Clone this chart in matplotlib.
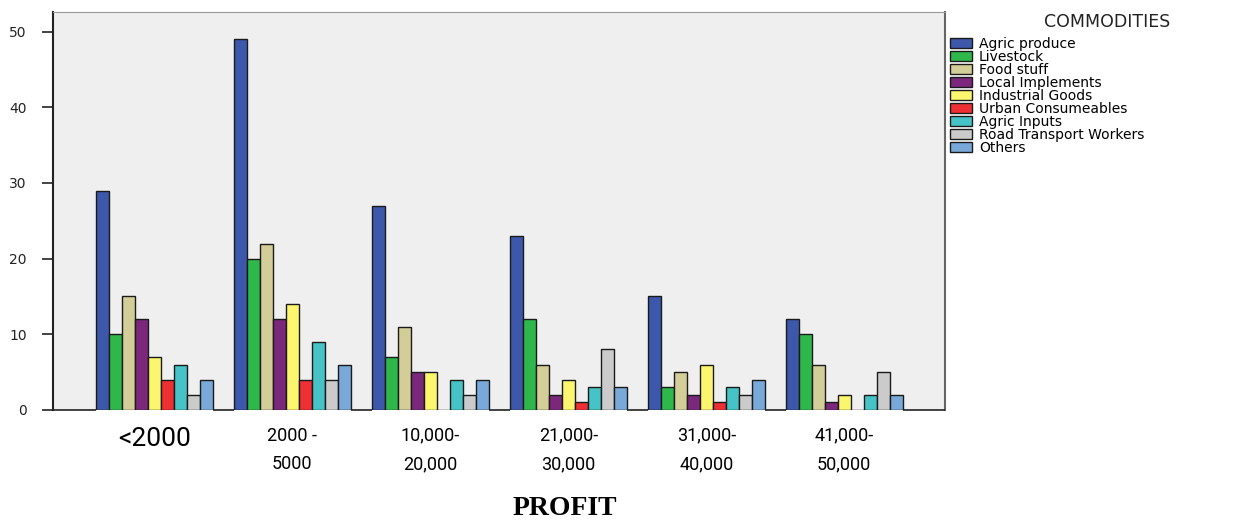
import matplotlib.pyplot as plt
import numpy as np

# profit bands (x axis) and commodity series
profit_labels = ["<2000", "2000 -\n5000", "10,000-\n20,000", "21,000-\n30,000", "31,000-\n40,000", "41,000-\n50,000"]
commodities = ["Agric produce", "Livestock", "Food stuff", "Local Implements", "Industrial Goods",
               "Urban Consumeables", "Agric Inputs", "Road Transport Workers", "Others"]
colors = ["#3D58AB", "#2EB84B", "#D3CE97", "#7B287C", "#FBF66E",
          "#EE3035", "#46C3C6", "#CBCBCB", "#78A9D8"]

agric_produce = [29, 49, 27, 23, 15, 12]
livestock = [10, 20, 7, 12, 3, 10]
food_stuff = [15, 22, 11, 6, 5, 6]
local_implements = [12, 12, 5, 2, 2, 1]
industrial_goods = [7, 14, 5, 4, 6, 2]
urban_consumeables = [4, 4, 0, 1, 1, 0]
agric_inputs = [6, 9, 4, 3, 3, 2]
road_transport = [2, 4, 2, 8, 2, 5]
others = [4, 6, 4, 3, 4, 2]

series = [agric_produce, livestock, food_stuff, local_implements, industrial_goods,
          urban_consumeables, agric_inputs, road_transport, others]

fig = plt.figure(figsize=(12.53, 5.24), dpi=100)
ax = fig.add_axes([0.0423, 0.2176, 0.7119, 0.7595])
ax.set_facecolor("#EFEFEF")

n = len(commodities)
group_w = 0.85
bw = group_w / n
x = np.arange(len(profit_labels))
for i, (name, vals, c) in enumerate(zip(commodities, series, colors)):
    ax.bar(x - group_w / 2 + bw * (i + 0.5), vals, bw, color=c, edgecolor="#1a1a1a",
           linewidth=1.0, label=name, zorder=3)

xmin, xmax = -0.735, 5.73
ax.set_xlim(xmin, xmax)
ax.set_ylim(0, 52.6)

# baseline drawn only in the gaps between groups
left_ends = [xmin] + list(x + group_w / 2)
right_ends = list(x - group_w / 2) + [xmax]
ax.hlines(np.zeros(len(left_ends)), left_ends, right_ends,
          color="#222222", linewidth=1.2, zorder=4, clip_on=False)

ax.spines["bottom"].set_visible(False)
ax.spines["left"].set_color("#222222")
ax.spines["left"].set_linewidth(1.5)
ax.spines["top"].set_color("#999999")
ax.spines["right"].set_color("#666666")
ax.spines["right"].set_linewidth(1.5)

ax.set_yticks([0, 10, 20, 30, 40, 50])
ax.tick_params(axis="y", length=8, width=1.2, color="#222222", labelsize=10, pad=11)
for t in ax.get_yticklabels():
    t.set_family("DejaVu Sans")
    t.set_color("#222222")

ax.set_xticks(x)
ax.set_xticklabels(profit_labels, family=["Roboto", "DejaVu Sans"],
                   fontsize=13, linespacing=1.75, va="top")
ax.get_xticklabels()[0].set_fontsize(19)
ax.tick_params(axis="x", length=0, pad=12)
ax.set_xlabel("PROFIT", family="Liberation Serif", fontweight="bold", fontsize=20, labelpad=18)
ax.xaxis.set_label_coords(0.574, -0.215)

leg = fig.legend(loc="upper left", bbox_to_anchor=(0.758, 0.93), frameon=False,
                 prop={"family": "DejaVu Sans", "size": 10},
                 handlelength=1.6, handleheight=0.8, handletextpad=0.5, labelspacing=-0.07,
                 borderpad=0, borderaxespad=0)
fig.text(0.8835, 0.958, "COMMODITIES", ha="center", va="center", fontsize=12.5,
         family="DejaVu Sans", color="#222222")

fig.savefig("out.png", dpi=100)
